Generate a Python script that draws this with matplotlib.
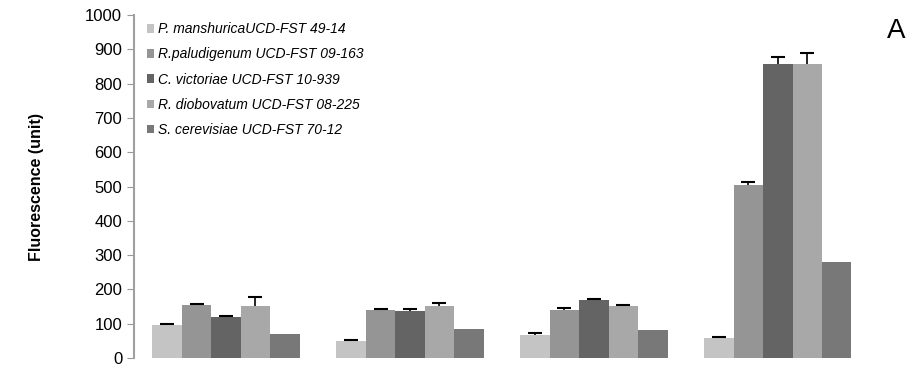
import numpy as np
import matplotlib

matplotlib.use("Agg")
import matplotlib.pyplot as plt

strains = [
    "P. manshuricaUCD-FST 49-14",
    "R.paludigenum UCD-FST 09-163",
    "C. victoriae UCD-FST 10-939",
    "R. diobovatum UCD-FST 08-225",
    "S. cerevisiae UCD-FST 70-12",
]
colors = ["#c4c4c4", "#959595", "#646464", "#a8a8a8", "#787878"]

# rows = strains, columns = the four conditions
values = [
    [97, 50, 68, 57],
    [155, 141, 141, 503],
    [120, 138, 170, 857],
    [152, 153, 152, 857],
    [70, 85, 82, 280],
]
errors = [
    [3, 2, 4, 3],
    [3, 3, 4, 10],
    [2, 4, 3, 20],
    [25, 8, 3, 33],
    [0, 0, 0, 0],
]
yticks = [0, 100, 200, 300, 400, 500, 600, 700, 800, 900, 1000]

plt.rcParams["font.family"] = ["Liberation Sans", "DejaVu Sans"]

fig = plt.figure(figsize=(9.21, 3.68), dpi=100)
ax = fig.add_axes([0.1455, 0.0272, 0.799, 0.932])

n_groups = len(values[0])
n_series = len(values)
width = 0.8 / n_series
x = np.arange(n_groups)
for i, (name, vals, errs, c) in enumerate(zip(strains, values, errors, colors)):
    pos = x - 0.4 + width * (i + 0.5)
    ax.bar(pos, vals, width=width, color=c, label=name, edgecolor="none")
    has_err = np.array([e > 0 for e in errs])
    if not has_err.any():
        continue
    eb = ax.errorbar(
        pos[has_err],
        np.array(vals)[has_err],
        yerr=[np.zeros(has_err.sum()), np.array(errs)[has_err]],
        fmt="none",
        ecolor="black",
        elinewidth=1.2,
        capsize=5,
        capthick=1.5,
    )
    # only the upper cap is visible in the original
    eb[1][0].set_visible(False)

ax.set_xlim(-0.5, n_groups - 0.5)
ax.set_ylim(0, 1000)
ax.set_yticks(yticks)
ax.tick_params(axis="y", labelsize=12, color="#999999", length=5, direction="out")
ax.set_xticks([])
for s in ["top", "right", "bottom"]:
    ax.spines[s].set_visible(False)
ax.spines["left"].set_color("#a0a0a0")
ax.spines["left"].set_linewidth(1.5)
ax.set_ylabel("Fluorescence (unit)", fontsize=11.5, fontweight="bold", labelpad=30)

leg = ax.legend(
    loc="upper left",
    bbox_to_anchor=(0.0, 1.015),
    frameon=False,
    prop={"style": "italic", "size": 10},
    handlelength=0.55,
    handleheight=0.55,
    handletextpad=0.3,
    labelspacing=0.8,
)

fig.text(0.973, 0.915, "A", fontsize=20, ha="center", va="center")

fig.savefig("out.png", dpi=100)
